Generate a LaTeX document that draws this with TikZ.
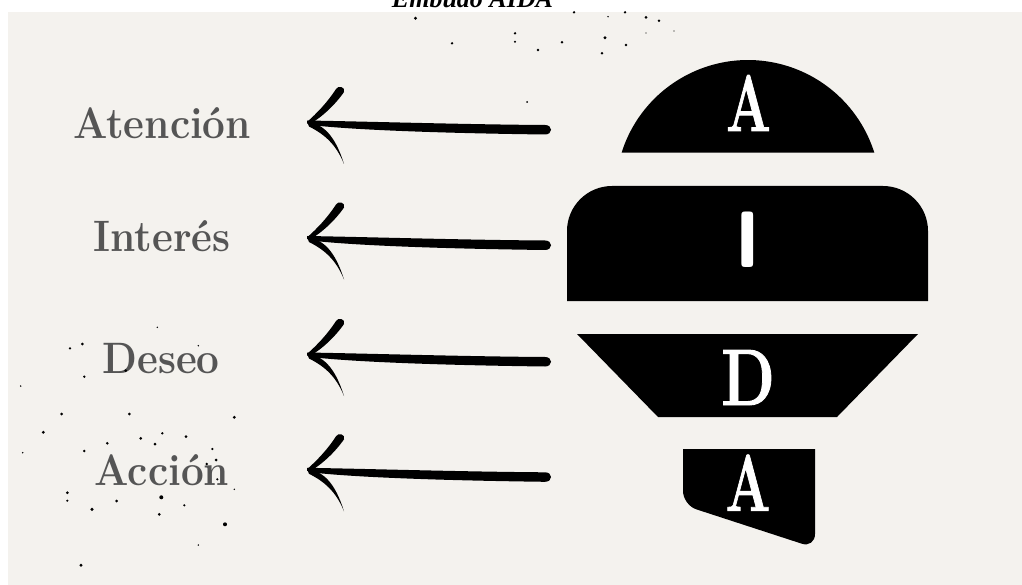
\documentclass[tikz,border=0pt]{standalone}
\usepackage{fontspec}
\newfontfamily\titlefont{Liberation Serif}
\newfontfamily\bigfont[FakeBold=1.2]{Latin Modern Roman}
\usetikzlibrary{calc}
\definecolor{bg}{HTML}{F4F2EE}
\definecolor{labgray}{HTML}{555555}
\tikzset{
  lab/.style={anchor=base, inner sep=0pt, text=labgray, font=\fontsize{44}{50}\selectfont\bfseries},
  bigletter/.style={anchor=base, inner sep=0pt, text=white, font=\bigfont\bfseries\fontsize{80}{80}\selectfont},
  shapefill/.style={fill=black},
  dot/.style={fill=black},
  brusharrow/.pic={
    % shaft
    \fill (0,-1.5) .. controls (60,-0.5) and (160,2.5) .. (238,3)
          .. controls (246,3) and (246,12.5) .. (238,12.5)
          .. controls (160,11.5) and (60,9) .. (8,3.5) -- (0,1.5) -- cycle;
    % upper barb
    \fill (0,0) .. controls (9,-8) and (20,-19) .. (29,-33)
          .. controls (31,-37) and (39,-35) .. (37,-30)
          .. controls (28,-17) and (15,-5) .. (3,2) -- cycle;
    % lower barb
    \fill (0,-0.5) .. controls (16,2) and (28,13) .. (37,42)
          .. controls (29,22) and (17,12) .. (2,4.5) -- cycle;
  }
}
\begin{document}
\begin{tikzpicture}[x=1pt,y=-1pt]
\useasboundingbox (0,0) rectangle (1022,585);
\fill[bg] (8,12) rectangle (1022,585);

% title (cut at top)
\node[anchor=base, inner sep=0pt, font=\titlefont\bfseries\itshape\fontsize{26}{26}\selectfont] (title) at (472.5,7.5) {Embudo AIDA};

% shapes
\fill[shapefill] (621.6,152.7) arc[start angle=197.5, end angle=342.5, radius=132.5] -- cycle;
\fill[shapefill] (567,301) -- (567,231) arc[start angle=180, end angle=270, radius=45]
   -- (883,186) arc[start angle=270, end angle=360, radius=45] -- (928,301) -- cycle;
\fill[shapefill] (577,334) -- (918,334) -- (837,417) -- (658,417) -- cycle;
\fill[shapefill] (683,449) -- (815,449) [rounded corners=14pt] -- (815,548) -- (683,505) [sharp corners] -- (683,470) -- cycle;

% letters
\node[bigletter] (lA1) at (748.5,131) {\scalebox{0.66}[1]{A}};
\node[bigletter, font=\fontsize{80}{80}\selectfont\sffamily\bfseries] (lI) at (748,267.3) {I};
\node[bigletter] (lD) at (748,405) {\scalebox{0.78}[1]{D}};
\node[bigletter] (lA2) at (748,510.7) {\scalebox{0.66}[1]{A}};

% labels
\node[lab] (at) at (162,138.3) {\scalebox{0.92}[1]{Atención}};
\node[lab] (in) at (162,251.7) {\scalebox{0.92}[1]{Interés}};
\node[lab] (de) at (161,373.3) {\scalebox{0.92}[1]{Deseo}};
\node[lab] (ac) at (162,485) {\scalebox{0.92}[1]{Acción}};

% arrows
\coordinate (t1) at (307,122);
\coordinate (t2) at (307,237.5);
\coordinate (t3) at (307,354);
\coordinate (t4) at (307,469.3);
\pic at (t1) {brusharrow};
\pic at (t2) {brusharrow};
\pic at (t3) {brusharrow};
\pic at (t4) {brusharrow};

% scattered dots
\foreach \x/\y/\r in {415.5/18.3/1.6, 574/12.3/1.3, 625/12.3/1.3, 646/17.3/1.5, 659/20.7/1.4, 608/16.7/0.8,
  515/33.3/1.3, 452/43.3/1.3, 515/41.7/1.1, 562/42.3/1.4, 605/37.7/1.6, 626/45/1.3, 674/31/0.7, 646/33/0.7,
  538/50/1.4, 602/53.3/1.4, 527/102/1.0,
  61.7/414/1.5, 129.3/414/1.5, 234.3/417.3/1.6, 43.3/432.3/1.6, 162.3/433.3/1.3, 186/436.7/1.5,
  140.7/438.3/1.5, 107.3/443.3/1.4, 155/444/1.5, 22.7/452.7/0.8, 84.3/451/1.4, 212.3/449/1.2,
  216/460/1.5, 206.7/464/1.3, 67.3/492.7/1.5, 67.3/500.7/1.2, 161.3/497.3/2.0, 116.7/501/1.5,
  184.3/505.3/1.2, 92/509.3/1.7, 159.3/514.3/1.5, 225/524.3/2.0, 198.3/545/0.8, 81/565.3/1.6,
  234.3/489.3/0.8, 217.3/479.3/1.2,
  70/348.3/1.3, 82.3/344/1.5, 157.3/327.3/0.8, 198.3/345.7/0.8, 84.3/376.7/1.3, 125.7/370.7/1.5, 20.7/386/0.8}
  \fill[dot] (\x,\y) circle[radius=\r];
\end{tikzpicture}
\end{document}
